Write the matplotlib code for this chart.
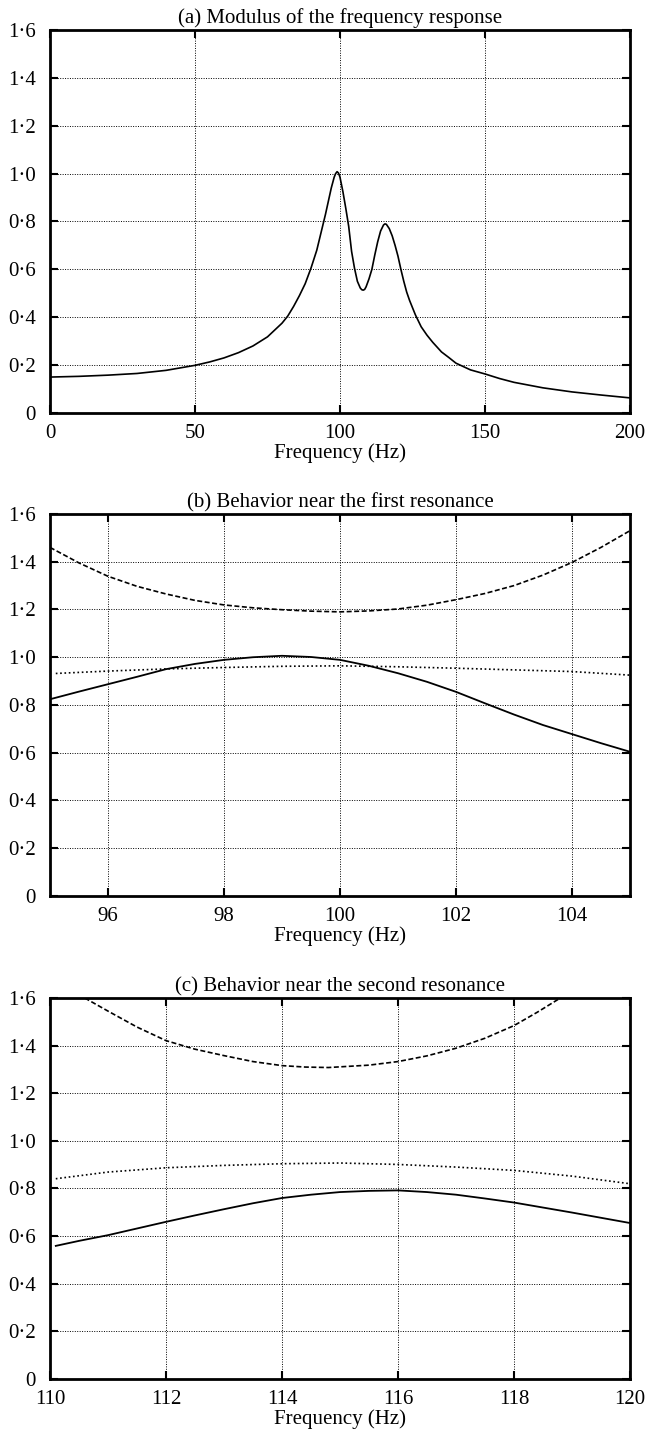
import matplotlib
matplotlib.use("Agg")
import matplotlib.pyplot as plt

plt.rcParams['font.family'] = ['Liberation Serif', 'DejaVu Serif']
plt.rcParams['font.size'] = 15

# y axis labels (same for all three panels)
y_ticks = [0, 0.2, 0.4, 0.6, 0.8, 1.0, 1.2, 1.4, 1.6]
y_tick_labels = ['0', '0·2', '0·4', '0·6', '0·8', '1·0', '1·2', '1·4', '1·6']

# (a) modulus of the frequency response
freq_a = [0, 10, 20, 30, 40, 50, 55, 60, 65, 70, 75, 80, 82, 84, 86, 88, 90, 92, 94, 95,
          96, 97, 98, 98.5, 99, 99.5, 100, 101, 102, 103, 104, 105, 106, 107, 107.5, 108,
          108.5, 109, 110, 111, 112, 113, 114, 115, 115.5, 116, 117, 118, 119, 120, 121,
          122, 123, 124, 125, 126, 127, 128, 130, 132, 135, 137.5, 140, 145, 150, 155,
          160, 170, 180, 190, 200]
mod_a = [0.150, 0.153, 0.158, 0.165, 0.178, 0.199, 0.213, 0.230, 0.252, 0.280, 0.318,
         0.375, 0.405, 0.445, 0.490, 0.540, 0.605, 0.680, 0.780, 0.830, 0.885, 0.940,
         0.985, 1.000, 1.008, 1.002, 0.985, 0.925, 0.855, 0.780, 0.675, 0.605, 0.550,
         0.522, 0.515, 0.513, 0.516, 0.527, 0.560, 0.600, 0.660, 0.715, 0.760, 0.785,
         0.790, 0.788, 0.770, 0.740, 0.700, 0.655, 0.600, 0.550, 0.505, 0.470, 0.440,
         0.410, 0.385, 0.360, 0.325, 0.295, 0.255, 0.232, 0.208, 0.180, 0.163, 0.144,
         0.128, 0.105, 0.088, 0.075, 0.063]
xticks_a = [0, 50, 100, 150, 200]

# (b) near the first resonance
freq_b = [95, 95.5, 96, 96.5, 97, 97.5, 98, 98.5, 99, 99.5, 100, 100.5, 101, 101.5,
          102, 102.5, 103, 103.5, 104, 104.5, 105]
solid_b = [0.824, 0.856, 0.887, 0.918, 0.950, 0.972, 0.989, 1.000, 1.006, 1.001, 0.989,
           0.964, 0.933, 0.897, 0.855, 0.807, 0.760, 0.716, 0.678, 0.640, 0.604]
freq_b_dash = [95, 95.5, 96, 96.5, 97, 97.5, 98, 98.5, 99, 99.5, 100, 100.5, 101, 101.5,
               102, 102.5, 103, 103.5, 104, 104.5, 105]
dash_b = [1.460, 1.395, 1.339, 1.297, 1.265, 1.238, 1.219, 1.207, 1.199, 1.193, 1.190,
          1.194, 1.202, 1.218, 1.241, 1.267, 1.300, 1.344, 1.397, 1.460, 1.530]
freq_b_dot = [95.1, 96, 97, 98, 99, 100, 101, 102, 103, 104, 105]
dot_b = [0.932, 0.942, 0.951, 0.957, 0.962, 0.964, 0.960, 0.954, 0.947, 0.940, 0.925]
xticks_b = [96, 98, 100, 102, 104]

# (c) near the second resonance
freq_c = [110.1, 110.5, 111, 111.5, 112, 112.5, 113, 113.5, 114, 114.5, 115, 115.5, 116,
          116.5, 117, 117.5, 118, 118.5, 119, 119.5, 120]
solid_c = [0.559, 0.580, 0.604, 0.632, 0.660, 0.687, 0.713, 0.738, 0.760, 0.774, 0.785,
           0.790, 0.792, 0.785, 0.774, 0.758, 0.741, 0.720, 0.699, 0.677, 0.655]
freq_c_dash = [110.6, 111, 111.5, 112, 112.5, 113, 113.5, 114, 114.4, 114.8, 115.5, 116,
               116.5, 117, 117.5, 118, 118.4, 118.8]
dash_c = [1.600, 1.545, 1.478, 1.421, 1.385, 1.358, 1.333, 1.316, 1.310, 1.308, 1.318,
          1.333, 1.357, 1.389, 1.431, 1.484, 1.540, 1.600]
freq_c_dot = [110.1, 111, 112, 113, 114, 115, 116, 117, 118, 119, 120]
dot_c = [0.841, 0.869, 0.887, 0.897, 0.904, 0.907, 0.901, 0.890, 0.876, 0.852, 0.820]
xticks_c = [110, 112, 114, 116, 118, 120]

fig = plt.figure(figsize=(6.5, 14.47), dpi=100)
ax_a = fig.add_axes([0.0769, 0.7146, 0.8923, 0.2647])
ax_b = fig.add_axes([0.0769, 0.3808, 0.8923, 0.2640])
ax_c = fig.add_axes([0.0769, 0.0470, 0.8923, 0.2633])

dashed = (0, (3, 1.5))
dotted = (0, (1, 1.6))


def style(ax, xlim, xticks, title):
    ax.set_xlim(xlim)
    ax.set_ylim(0, 1.6)
    ax.set_xticks(xticks)
    ax.set_xticklabels([str(t) for t in xticks])
    ax.set_yticks(y_ticks)
    ax.set_yticklabels(y_tick_labels)
    ax.grid(True, color='black', linestyle=(0, (1, 1.5)), linewidth=0.7)
    ax.tick_params(direction='in', length=6, width=1.5, top=True, right=True,
                   labelsize=15)
    ax.tick_params(axis='x', pad=8)
    ax.tick_params(axis='y', pad=10)
    for s in ax.spines.values():
        s.set_linewidth(2)
    ax.set_title(title, fontsize=15, pad=5)
    ax.set_xlabel('Frequency (Hz)', fontsize=15, labelpad=0)


ax_a.plot(freq_a, mod_a, color='black', linewidth=1.2)
style(ax_a, (0, 200), xticks_a, '(a) Modulus of the frequency response')

ax_b.plot(freq_b, solid_b, color='black', linewidth=1.3)
ax_b.plot(freq_b_dash, dash_b, color='black', linewidth=1.2, linestyle=dashed)
ax_b.plot(freq_b_dot, dot_b, color='black', linewidth=1.2, linestyle=dotted)
style(ax_b, (95, 105), xticks_b, '(b) Behavior near the first resonance')

ax_c.plot(freq_c, solid_c, color='black', linewidth=1.3)
ax_c.plot(freq_c_dash, dash_c, color='black', linewidth=1.2, linestyle=dashed)
ax_c.plot(freq_c_dot, dot_c, color='black', linewidth=1.2, linestyle=dotted)
style(ax_c, (110, 120), xticks_c, '(c) Behavior near the second resonance')

fig.savefig('out.png', dpi=100)
